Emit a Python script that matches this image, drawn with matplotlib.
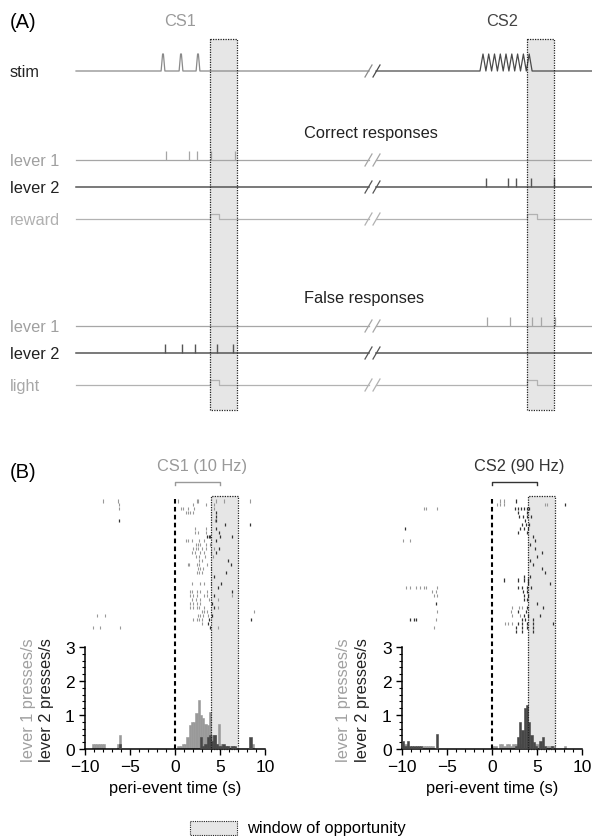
import numpy as np
import matplotlib
matplotlib.use("Agg")
import matplotlib.pyplot as plt
from matplotlib.patches import Rectangle
from matplotlib.ticker import MultipleLocator, FixedLocator

plt.rcParams['font.family'] = ['Liberation Sans', 'DejaVu Sans']
plt.rcParams['font.size'] = 11.8

# ---------------- panel A : schematic (positions in schematic units) ----------------
cs1_pulses = [163, 181, 198]
cs2_pulses = [483, 488.7, 494.5, 500.3, 506, 511.8, 517.6, 523.4, 529.2]
correct_cs1_lever1 = [166, 189, 197, 211, 235]
correct_cs2_lever2 = [486, 508, 516, 531, 554]
false_cs1_lever2 = [165, 182, 195, 217, 233]
false_cs2_lever1 = [487, 510, 532, 541, 555]
reward_cs1 = [210, 219]
reward_cs2 = [527, 537]
window_cs1 = [210, 237]
window_cs2 = [527, 554]

# ---------------- panel B : peri-event histograms (0.25 s bins, left edges) ----------------
cs1_l1_edges = [-9.25, -9.0, -8.75, -8.5, -8.25, -8.0, -6.5, -6.25,
                0.25, 0.5, 0.75, 1.0, 1.25, 1.5, 1.75, 2.0, 2.25, 2.5, 2.75, 3.0,
                3.25, 3.5, 3.75, 4.0, 4.25, 4.5, 4.75, 5.0, 5.25, 5.5, 5.75, 6.0,
                6.25, 6.5, 8.5]
cs1_l1_rate = [0.15, 0.15, 0.15, 0.15, 0.15, 0.15, 0.15, 0.4,
               0.1, 0.1, 0.15, 0.15, 0.35, 0.7, 0.8, 0.8, 1.05, 1.45, 1.0, 0.9,
               0.75, 0.7, 1.1, 0.4, 0.4, 0.15, 0.75, 0.15, 0.1, 0.1, 0.1, 0.1,
               0.1, 0.05, 0.15]
cs1_l2_edges = [-6.25, 2.75, 3.0, 3.25, 3.5, 3.75, 4.0, 4.25, 4.5, 4.75, 5.0,
                5.25, 5.5, 5.75, 6.25, 6.5, 8.25]
cs1_l2_rate = [0.15, 0.35, 0.1, 0.15, 0.35, 0.4, 0.25, 0.4, 0.15, 0.1, 0.1,
               0.15, 0.1, 0.1, 0.1, 0.1, 0.35]

cs2_l1_edges = [-9.75, -7.75, -7.5, -7.25, -7.0, -6.75, 0.0, 0.25, 0.75, 1.0,
                1.25, 1.5, 1.75, 2.0, 2.25, 2.5, 3.0, 4.75, 5.0, 5.25, 6.0,
                6.25, 6.5, 6.75, 8.0]
cs2_l1_rate = [0.15, 0.1, 0.1, 0.1, 0.1, 0.1, 0.1, 0.1, 0.15, 0.15,
               0.1, 0.15, 0.15, 0.1, 0.15, 0.15, 0.15, 0.15, 0.15, 0.1, 0.1,
               0.1, 0.1, 0.1, 0.1]
cs2_l2_edges = [-10.0, -9.75, -9.5, -9.25, -9.0, -8.75, -8.5, -8.25, -8.0, -6.25,
                2.5, 2.75, 3.0, 3.25, 3.5, 3.75, 4.0, 4.25, 4.5, 4.75,
                5.25, 5.5, 5.75, 6.5]
cs2_l2_rate = [0.25, 0.1, 0.25, 0.1, 0.1, 0.1, 0.1, 0.1, 0.1, 0.45,
               0.1, 0.35, 0.8, 0.55, 1.2, 1.3, 0.8, 0.4, 0.2, 0.1,
               0.25, 0.35, 0.1, 0.1]

# raster: press times (s) per trial, lever 1 and lever 2
cs1_raster_l1 = [
    [-8.0, -6.3, 0.3, 2.4, 2.6, 4.6, 5.4, 8.3], [-6.2, 2.0, 3.4, 4.3],
    [-6.2, 0.7, 0.9, 1.4, 2.1, 4.3], [1.2, 1.4, 1.7, 2.0], [], [4.4], [],
    [2.2, 3.4], [2.2, 2.5, 3.4], [], [1.2, 1.4, 1.9, 2.7, 3.2],
    [2.3, 2.5, 2.8, 3.4, 3.9], [2.0, 2.3, 2.6, 3.0, 3.4, 4.3],
    [1.9, 2.2, 2.8, 3.2, 4.0], [2.3, 2.7, 3.3, 4.2], [2.7, 3.0],
    [1.4, 1.6, 2.4, 2.7, 3.6], [2.5, 2.8, 3.1, 4.0], [2.4, 2.7, 3.0], [], [],
    [1.9, 2.8, 3.2, 4.0], [], [1.7, 1.9, 2.4, 2.8, 3.6],
    [1.7, 2.0, 2.4, 3.2, 3.5, 6.3], [1.9, 2.3, 2.8, 3.8, 4.8],
    [1.7, 2.0, 2.4, 2.8], [1.7, 2.0, 2.4, 2.7, 3.2, 4.8], [3.0, 3.2, 3.5, 8.8],
    [-8.7, -7.8, 2.5, 2.8, 3.1, 3.7], [2.0, 2.4, 2.7, 3.0], [3.0],
    [-9.1, -8.3, -6.1, 4.8]]
cs1_raster_l2 = [
    [], [], [], [4.6], [4.5], [-6.2, 4.5], [5.6, 8.3], [4.6], [4.9],
    [3.6, 3.75, 3.9, 5.0, 6.3], [4.5], [], [4.9], [4.6], [], [5.9], [6.2], [],
    [5.7], [4.3], [], [5.1], [4.8], [6.3], [4.3], [], [4.1], [4.3], [], [4.1],
    [3.8, 8.4], [3.7], [3.9]]

cs2_raster_l1 = [
    [0.9, 1.3], [0.6, 0.9, 1.3, 5.9, 6.1], [-7.6, -7.3, -6.1], [], [], [], [],
    [], [], [], [-9.9, -9.1], [], [], [], [], [], [], [], [], [], [], [],
    [-9.6, -9.1, -8.4, -8.0, -7.6, -7.3, -6.1], [-6.7, -6.2], [-6.5, -6.1], [],
    [], [2.2, 3.0, 3.3], [-6.1, 2.1], [2.2, 3.1], [-6.2], [1.4, 1.8, 2.2],
    [-6.5], []]
cs2_raster_l2 = [
    [2.7], [8.1], [2.6, 2.9, 3.2, 3.6, 3.9, 4.1], [2.9, 3.9], [3.0, 3.4, 3.9, 4.3],
    [3.7], [3.3, 3.8, 4.1], [-9.7, 3.1, 3.6, 4.0], [2.9, 3.9], [4.6], [4.8],
    [4.2], [4.8], [5.5], [5.0], [4.2], [4.6], [5.6], [5.9], [3.5, 4.2],
    [1.3, 2.9, 3.6, 4.0], [4.0, 6.4], [2.9, 3.3, 3.9, 4.3], [3.4, 3.9],
    [3.6, 4.0], [3.5, 3.9], [-6.2, 5.0], [3.9, 5.7], [2.9, 3.8], [3.5, 4.0, 5.3],
    [-9.1, -8.7, -8.4, 3.3, 3.7, 4.6], [2.9, 3.3, 3.9, 4.5, 6.8],
    [2.7, 3.3, 3.9, 4.6], [2.7, 3.3, 4.6]]

window = [4, 7]

# colours
C_L1 = '#a6a6a6'
C_L2 = '#555555'
C_RW = '#b2b2b2'
BOXC = '#e6e6e6'

W, H = 592, 837
fig = plt.figure(figsize=(W / 100, H / 100), dpi=100)
ax0 = fig.add_axes([0, 0, 1, 1])
ax0.set_xlim(0, W)
ax0.set_ylim(H, 0)
ax0.axis('off')

X0, BRK_L, BRK_R, X1 = 76, 369, 376, 592


def slashes(y, c1, c2):
    ax0.plot([BRK_L - 4, BRK_L + 3], [y + 6, y - 6], color=c1, lw=0.9)
    ax0.plot([BRK_R - 3, BRK_R + 4], [y + 6, y - 6], color=c2, lw=0.9)


def flat(y, c1, c2, lw=0.9):
    ax0.plot([X0, BRK_L], [y, y], color=c1, lw=lw)
    ax0.plot([BRK_R, X1], [y, y], color=c2, lw=lw)
    slashes(y, c1, c2)


def pulse_line(y, p, c, lw=0.9):
    # step pulse on a trace: left half and right half
    xl = [X0, p[0][0], p[0][0], p[0][1], p[0][1], BRK_L]
    xr = [BRK_R, p[1][0], p[1][0], p[1][1], p[1][1], X1]
    yy = [y, y, y - 5, y - 5, y, y]
    ax0.plot(xl, yy, color=c, lw=lw)
    ax0.plot(xr, yy, color=c, lw=lw)
    slashes(y, c, c)


# stim
ys = 72
xs_l = [X0]
yl = [ys]
for p in cs1_pulses:
    xs_l += [p - 1.9, p - 0.4, p + 0.4, p + 1.9]
    yl += [ys, ys - 17, ys - 17, ys]
xs_l.append(BRK_L)
yl.append(ys)
ax0.plot(xs_l, yl, color='#8a8a8a', lw=0.9)
xs_r = [BRK_R, 480]
yr = [ys, ys]
for p in cs2_pulses:
    xs_r += [p, p + 2.9]
    yr += [ys - 17, ys]
xs_r.append(X1)
yr.append(ys)
ax0.plot(xs_r, yr, color='#4a4a4a', lw=0.9)
slashes(ys, '#8a8a8a', '#4a4a4a')

# correct responses
flat(161, C_L1, C_L1)
ax0.vlines(correct_cs1_lever1, 152, 161, color=C_L1, lw=0.9)
flat(188, C_L2, C_L2, lw=1.1)
ax0.vlines(correct_cs2_lever2, 179, 188, color=C_L2, lw=1.0)
pulse_line(220, [reward_cs1, reward_cs2], C_RW)

# false responses
flat(327, C_L1, C_L1)
ax0.vlines(false_cs2_lever1, 318, 327, color=C_L1, lw=0.9)
flat(354, C_L2, C_L2, lw=1.1)
ax0.vlines(false_cs1_lever2, 345, 354, color=C_L2, lw=1.0)
pulse_line(386, [reward_cs1, reward_cs2], C_RW)

for wx in (window_cs1, window_cs2):
    ax0.add_patch(Rectangle((wx[0], 40), wx[1] - wx[0], 371, fc=BOXC, ec='none', zorder=0))
    ax0.add_patch(Rectangle((wx[0], 40), wx[1] - wx[0], 371, fill=False, ec='#222222',
                            ls=(0, (1, 1)), lw=0.9, zorder=5))

ax0.text(10, 22, '(A)', fontsize=14.5, va='center', ha='left')
ax0.text(180, 21, 'CS1', color='#9a9a9a', ha='center', va='center')
ax0.text(502, 21, 'CS2', color='#444444', ha='center', va='center')
labels = [('stim', 72, '#222222'), ('lever 1', 161, '#a0a0a0'), ('lever 2', 188, '#222222'),
          ('reward', 220, '#b0b0b0'), ('lever 1', 327, '#a0a0a0'),
          ('lever 2', 354, '#222222'), ('light', 386, '#a8a8a8')]
for txt, y, c in labels:
    ax0.text(10, y, txt, color=c, ha='left', va='center')
ax0.text(304, 133, 'Correct responses', color='#222222', va='center')
ax0.text(304, 298, 'False responses', color='#222222', va='center')
ax0.text(10, 472, '(B)', fontsize=14.5, va='center', ha='left')

# legend
ax0.add_patch(Rectangle((190, 822), 47, 14, fc=BOXC, ec='#222222', ls=(0, (1, 1)), lw=0.8))
ax0.text(247, 829, 'window of opportunity', va='center', ha='left')

# ---------------- panel B ----------------
PX = 34.0  # pixels per unit (presses/s)


def panel(left_px, l1e, l1h, l2e, l2h, r1, r2, title, tcol, lab_x):
    ax = fig.add_axes([left_px / W, (H - 750) / H, 180 / W, 253 / H])
    top = 253 / PX
    ax.set_xlim(-10, 10)
    ax.set_ylim(0, top)
    ax.add_patch(Rectangle((window[0], 0), window[1] - window[0], top, fc=BOXC, ec='none', zorder=0))
    ax.add_patch(Rectangle((window[0], 0), window[1] - window[0], top, fill=False, ec='#222222',
                           ls=(0, (1, 1)), lw=0.9, zorder=5, clip_on=False))
    ax.bar(l1e, l1h, width=0.25, align='edge', color='#999999', ec='#999999', lw=0.4, zorder=2)
    ax.bar(l2e, l2h, width=0.25, align='edge', color='#474747', ec='#474747', lw=0.4, zorder=3)
    ax.axvline(0, color='black', lw=1.5, ls=(0, (2.2, 1.6)), zorder=4)
    for k in range(len(r1)):
        y = (248 - 3.95 * k) / PX
        if r1[k]:
            ax.vlines(r1[k], y - 0.045, y + 0.045, color='#999999', lw=0.8, zorder=3)
        if r2[k]:
            ax.vlines(r2[k], y - 0.045, y + 0.045, color='#333333', lw=0.9, zorder=3)
    yb = (750 - 483) / PX
    ax.plot([0, 0, 5, 5], [yb - 0.09, yb, yb, yb - 0.09], color=tcol, lw=1.0, clip_on=False)
    ax.text(3, (750 - 467) / PX, title, color=tcol, ha='center', va='center')
    for s in ('top', 'right'):
        ax.spines[s].set_visible(False)
    ax.spines['left'].set_bounds(0, 3)
    ax.spines['left'].set_linewidth(1.1)
    ax.spines['bottom'].set_linewidth(1.1)
    ax.set_yticks([0, 1, 2, 3])
    ax.yaxis.set_minor_locator(FixedLocator(np.arange(0, 3.01, 0.2)))
    ax.set_xticks([-10, -5, 0, 5, 10])
    ax.xaxis.set_minor_locator(MultipleLocator(1))
    ax.tick_params(which='major', length=4, width=1.0, labelsize=12.5)
    ax.tick_params(which='minor', length=2.2, width=0.8)
    ax.set_xlabel('peri-event time (s)', labelpad=4)
    fig.text(lab_x[0] / W, (H - 700) / H, 'lever 1 presses/s', color='#a0a0a0',
             rotation=90, ha='center', va='center')
    fig.text(lab_x[1] / W, (H - 700) / H, 'lever 2 presses/s', color='#222222',
             rotation=90, ha='center', va='center')
    return ax


panel(85, cs1_l1_edges, cs1_l1_rate, cs1_l2_edges, cs1_l2_rate,
      cs1_raster_l1, cs1_raster_l2, 'CS1 (10 Hz)', '#999999', (28, 46))
panel(402, cs2_l1_edges, cs2_l1_rate, cs2_l2_edges, cs2_l2_rate,
      cs2_raster_l1, cs2_raster_l2, 'CS2 (90 Hz)', '#333333', (344, 363))

fig.savefig('out.png', dpi=100)
